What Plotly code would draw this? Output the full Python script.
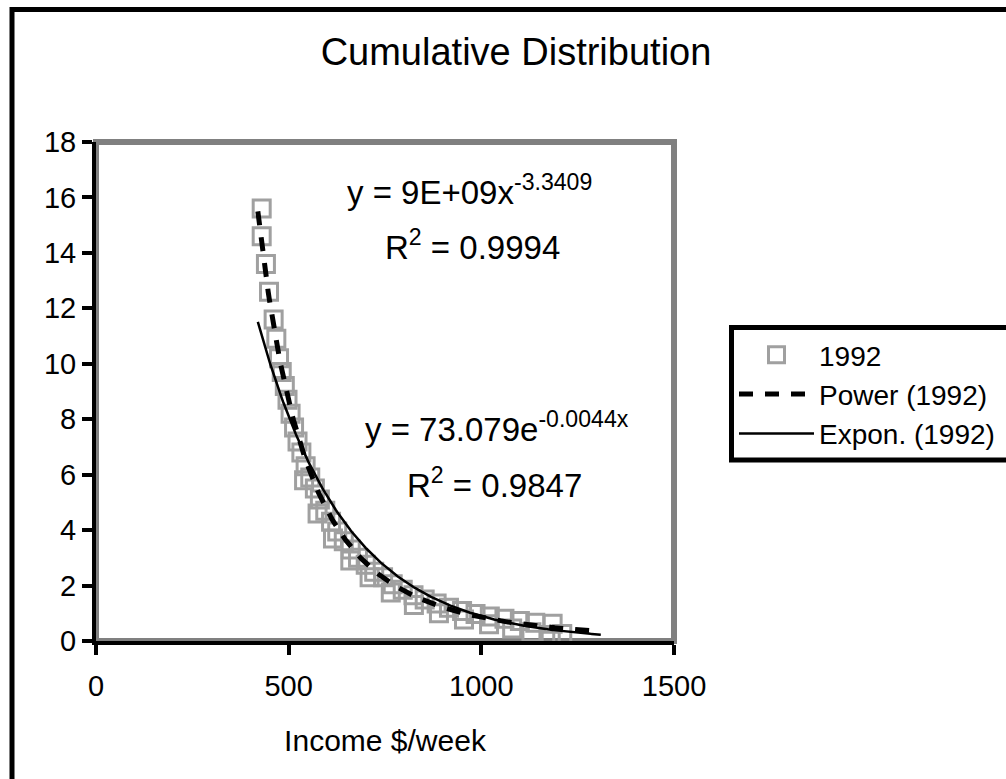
import numpy as np
import plotly.graph_objects as go

# ---- data ----
income_1992 = [430, 430, 441, 449, 461, 468, 475, 482, 490, 497,
               505, 514, 523, 533, 544, 556, 568, 581, 595, 610,
               626, 643, 661, 680, 700, 722, 745, 770, 796, 824,
               853, 884, 916, 950, 985, 1022, 1060, 1100, 1140, 1185,
               540, 575, 615, 660, 710, 765, 825, 890, 955, 1020,
               1080, 1130, 1180, 1210]
pct_1992 = [15.6, 14.6, 13.6, 12.6, 11.6, 10.9, 10.2, 9.7, 9.2, 8.7,
            8.2, 7.7, 7.2, 6.8, 6.3, 5.9, 5.5, 5.1, 4.7, 4.3,
            3.95, 3.6, 3.3, 3.0, 2.75, 2.5, 2.3, 2.05, 1.85, 1.65,
            1.5, 1.35, 1.2, 1.08, 0.97, 0.88, 0.8, 0.72, 0.66, 0.62,
            5.8, 4.6, 3.7, 2.9, 2.3, 1.75, 1.3, 1.0, 0.78, 0.6,
            0.45, 0.32, 0.22, 0.25]

# trendline coefficients as printed on the chart
POWER_A, POWER_B = 9e9, -3.3409
EXP_A, EXP_B = 73.079, -0.0044
TREND_X_RANGE = [420, 1310]

x_ticks = [0, 500, 1000, 1500]
y_ticks = [0, 2, 4, 6, 8, 10, 12, 14, 16, 18]

FONT = "Liberation Sans, Arial, sans-serif"

# pixel geometry helpers (plot area 96..674 x 142..641)
L, R, T, B = 96, 674, 142, 641
W, H = 1006, 779
def px(x):
    return (x - L) / (R - L)
def py(y):
    return (B - y) / (B - T)

tx = np.linspace(TREND_X_RANGE[0], TREND_X_RANGE[1], 300)

fig = go.Figure()
fig.add_trace(go.Scatter(
    x=income_1992, y=pct_1992, mode="markers", name="1992",
    marker=dict(symbol="square-open", size=17, color="#a0a0a0",
                line=dict(width=3, color="#a0a0a0"))))
fig.add_trace(go.Scatter(
    x=tx, y=POWER_A * tx ** POWER_B, mode="lines", name="Power (1992)",
    line=dict(color="black", width=5, dash="14px,12px")))
fig.add_trace(go.Scatter(
    x=tx, y=EXP_A * np.exp(EXP_B * tx), mode="lines", name="Expon. (1992)",
    line=dict(color="black", width=2.5)))

axis_common = dict(showgrid=False, zeroline=False, showline=True,
                   linecolor="black", linewidth=4, ticks="outside",
                   ticklen=10, tickwidth=4, tickcolor="black",
                   tickfont=dict(family=FONT, size=29, color="black"))

fig.update_layout(
    width=W, height=H,
    margin=dict(l=L, r=W - R, t=T, b=H - B, autoexpand=False),
    paper_bgcolor="white", plot_bgcolor="white",
    font=dict(family=FONT, color="black"),
    title=dict(text="Cumulative Distribution", x=516 / W, y=1 - 52 / H,
               xref="container", yref="container", xanchor="center",
               yanchor="middle", font=dict(family=FONT, size=38, color="black")),
    xaxis=dict(range=[0, 1500], tickvals=x_ticks, ticklabelstandoff=6,
               title=dict(text="Income $/week", font=dict(family=FONT, size=30),
                          standoff=30),
               **axis_common),
    yaxis=dict(range=[0, 18], tickvals=y_ticks, **axis_common),
    legend=dict(x=px(734), y=py(330), xanchor="left", yanchor="top",
                borderwidth=0, bgcolor="rgba(0,0,0,0)",
                font=dict(family=FONT, size=28, color="black"),
                itemwidth=75),
    showlegend=True,
)

# plot-area grey frame, legend frame (runs off the right edge) and outer border
fig.add_shape(type="rect", xref="paper", yref="paper", x0=0, x1=1, y0=0, y1=1,
              line=dict(color="#808080", width=6), layer="below")
fig.add_shape(type="rect", xref="paper", yref="paper",
              x0=px(731.5), x1=px(1040), y0=py(460), y1=py(327.5),
              line=dict(color="black", width=5), layer="below")
fig.add_shape(type="rect", xref="paper", yref="paper",
              x0=px(12), x1=px(1030), y0=py(800), y1=py(9.5),
              line=dict(color="black", width=5), layer="above")

ann_font = dict(family=FONT, size=33, color="black")
eqs = [
    ("y = 9E+09x<sup>-3.3409</sup>", 345, 190),
    ("R<sup>2</sup> = 0.9994", 383, 245),
    ("y = 73.079e<sup>-0.0044x</sup>", 363, 427),
    ("R<sup>2</sup> = 0.9847", 405, 483),
]
for txt, xx, yy in eqs:
    fig.add_annotation(text=txt, xref="paper", yref="paper", x=px(xx), y=py(yy),
                       xanchor="left", yanchor="middle", showarrow=False,
                       font=ann_font)

fig.write_html("out.html")
